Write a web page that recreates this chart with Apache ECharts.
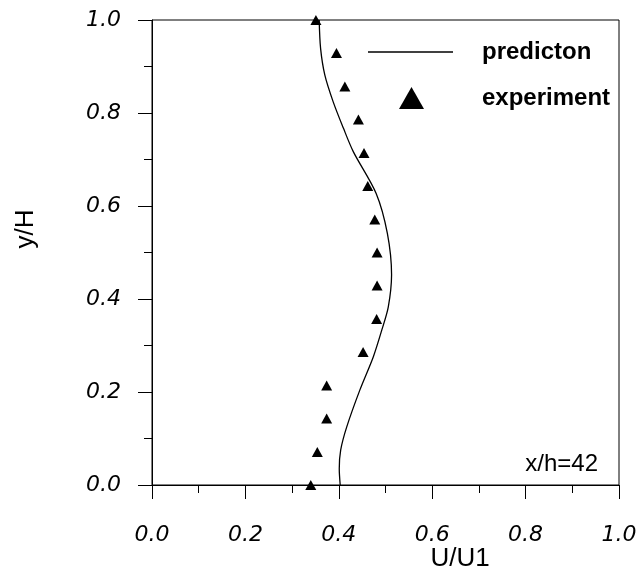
<!DOCTYPE html>
<html>
<head>
<meta charset="utf-8">
<script src="https://cdn.jsdelivr.net/npm/echarts@6/dist/echarts.min.js"></script>
<style>
  html, body { margin: 0; padding: 0; background: #fff; }
  #chart { width: 641px; height: 574px; }
</style>
</head>
<body>
<div id="chart"></div>
<script>
// prediction curve, [U/U1, y/H]
var predX = [0.403, 0.401, 0.404, 0.417, 0.445, 0.474, 0.492, 0.506, 0.513, 0.504, 0.480, 0.431, 0.410, 0.388, 0.370, 0.361, 0.358];
var predY = [0.000, 0.035, 0.075, 0.125, 0.204, 0.276, 0.333, 0.383, 0.452, 0.541, 0.627, 0.717, 0.767, 0.824, 0.882, 0.939, 1.000];

// experiment points
var expX = [0.340, 0.354, 0.374, 0.374, 0.452, 0.481, 0.482, 0.482, 0.477, 0.462, 0.454, 0.442, 0.413, 0.395, 0.351];
var expY = [0.000, 0.071, 0.143, 0.214, 0.286, 0.357, 0.429, 0.500, 0.571, 0.643, 0.714, 0.786, 0.857, 0.929, 1.000];

var tickFont = { fontFamily: 'DejaVu Sans', fontStyle: 'italic', fontSize: 22, color: '#000' };
var legendFont = { fontFamily: 'Liberation Sans', fontWeight: 'bold', fontSize: 24, color: '#000' };

function pairs(xs, ys) {
    return xs.map(function (x, i) { return [x, ys[i]]; });
}

var chart = echarts.init(document.getElementById('chart'));
chart.setOption({
    animation: false,
    backgroundColor: '#fff',
    grid: {
        left: 152, right: 22, top: 20, bottom: 89,
        show: true, borderColor: '#000', borderWidth: 1
    },
    xAxis: {
        type: 'value', min: 0, max: 1, interval: 0.2,
        axisLine: { lineStyle: { color: '#000', width: 1 } },
        axisTick: { show: true, inside: false, length: 14, lineStyle: { color: '#000' } },
        minorTick: { show: true, splitNumber: 2, length: 8, lineStyle: { color: '#000' } },
        splitLine: { show: false },
        axisLabel: Object.assign({ margin: 39, formatter: function (v) { return v.toFixed(1); } }, tickFont)
    },
    yAxis: {
        type: 'value', min: 0, max: 1, interval: 0.2,
        axisLine: { lineStyle: { color: '#000', width: 1 } },
        axisTick: { show: true, inside: false, length: 14, lineStyle: { color: '#000' } },
        minorTick: { show: true, splitNumber: 2, length: 8, lineStyle: { color: '#000' } },
        splitLine: { show: false },
        axisLabel: Object.assign({ margin: 31, padding: [4, 0, 0, 0], formatter: function (v) { return v.toFixed(1); } }, tickFont)
    },
    legend: [
        {
            data: [{ name: 'predicton', icon: 'rect' }], left: 368, top: 40, padding: 0,
            itemWidth: 85, itemHeight: 1.5,
            textStyle: Object.assign({ padding: [0, 0, 0, 24] }, legendFont)
        },
        {
            data: [{ name: 'experiment', icon: 'triangle' }], left: 399, top: 86, padding: 0,
            itemWidth: 25, itemHeight: 22,
            itemStyle: { opacity: 1 },
            textStyle: Object.assign({ padding: [0, 0, 0, 53] }, legendFont)
        }
    ],
    series: [
        {
            name: 'predicton', type: 'line',
            data: pairs(predX, predY),
            smooth: 0.3, symbol: 'none',
            lineStyle: { color: '#000', width: 1.3 },
            itemStyle: { color: '#000' }
        },
        {
            name: 'experiment', type: 'scatter',
            data: pairs(expX, expY),
            symbol: 'triangle', symbolSize: [11, 10],
            clip: false,
            itemStyle: { color: '#000', opacity: 1 }
        }
    ],
    graphic: [
        {
            type: 'text', x: 26, y: 229, rotation: Math.PI / 2,
            style: { text: 'y/H', fontFamily: 'Liberation Sans', fontSize: 26, fill: '#000', align: 'center', verticalAlign: 'middle' }
        },
        {
            type: 'text', x: 460, y: 559,
            style: { text: 'U/U1', fontFamily: 'Liberation Sans', fontSize: 26, fill: '#000', align: 'center', verticalAlign: 'middle' }
        },
        {
            type: 'text', x: 598, y: 464,
            style: { text: 'x/h=42', fontFamily: 'Liberation Sans', fontSize: 24, fill: '#000', align: 'right', verticalAlign: 'middle' }
        }
    ]
});
</script>
</body>
</html>
